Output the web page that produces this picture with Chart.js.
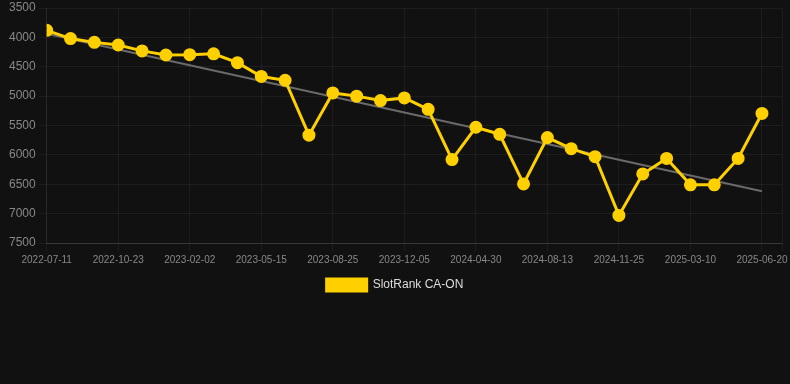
<!DOCTYPE html>
<html lang="en">
<head>
    <meta charset="UTF-8">
    <title>SlotRank CA-ON</title>
    <script src="https://cdn.jsdelivr.net/npm/chart.js"></script>
    <style>
        html, body {
            margin: 0;
            padding: 0;
            background: #111111;
        }
        .chart-box {
            position: relative;
            width: 790px;
            height: 301px;
        }
    </style>
</head>
<body>
    <div class="chart-box">
        <canvas id="rankChart"></canvas>
    </div>

    <script>
        // dates shown under the points (every 3rd one is printed)
        const dates = [
            '2022-07-11', '2022-08-15', '2022-09-19', '2022-10-23', '2022-11-27', '2022-12-29',
            '2023-02-02', '2023-03-08', '2023-04-11', '2023-05-15', '2023-06-18', '2023-07-22',
            '2023-08-25', '2023-09-28', '2023-11-01', '2023-12-05', '2024-01-08', '2024-03-18',
            '2024-04-30', '2024-06-04', '2024-07-09', '2024-08-13', '2024-09-17', '2024-10-21',
            '2024-11-25', '2024-12-30', '2025-02-03', '2025-03-10', '2025-04-13', '2025-05-17',
            '2025-06-20'
        ];
        const rankValues = [
            3880, 4020, 4085, 4130, 4230, 4300, 4295, 4280, 4430, 4665, 4730,
            5665, 4945, 5000, 5075, 5030, 5225, 6080, 5530, 5650, 6495, 5705,
            5895, 6030, 7030, 6325, 6060, 6510, 6510, 6060, 5295
        ];
        // gray trend line, start and end
        const trendEnds = [3940, 6620];
        const yTicks = { min: 3500, max: 7500, step: 500 };
        const labelEvery = 3;
        const xMax = 30.84;

        const last = dates.length - 1;
        const ctx = document.getElementById('rankChart').getContext('2d');
        const rankChart = new Chart(ctx, {
            type: 'line',
            data: {
                datasets: [{
                    label: 'SlotRank CA-ON',
                    data: rankValues.map((v, i) => ({ x: i, y: v })),
                    borderColor: '#ffd000',
                    backgroundColor: '#ffd000',
                    pointBackgroundColor: '#ffd000',
                    pointBorderColor: '#ffd000',
                    borderWidth: 3,
                    pointRadius: 5,
                    tension: 0
                }, {
                    label: 'trend',
                    data: [{ x: 0, y: trendEnds[0] }, { x: last, y: trendEnds[1] }],
                    borderColor: '#6a6a6a',
                    borderWidth: 2,
                    pointRadius: 0,
                    tension: 0
                }]
            },
            options: {
                responsive: true,
                maintainAspectRatio: false,
                animation: false,
                plugins: {
                    tooltip: { enabled: false },
                    legend: {
                        position: 'bottom',
                        labels: {
                            color: '#dddddd',
                            boxWidth: 40,
                            font: { family: 'Arial', size: 12 },
                            filter: item => item.datasetIndex === 0
                        }
                    }
                },
                scales: {
                    x: {
                        type: 'linear',
                        min: 0,
                        max: xMax,
                        afterBuildTicks: scale => {
                            const ticks = [];
                            dates.forEach((d, i) => {
                                if (i % labelEvery === 0) ticks.push({ value: i });
                            });
                            ticks.push({ value: xMax });
                            scale.ticks = ticks;
                        },
                        ticks: {
                            autoSkip: false,
                            maxRotation: 0,
                            color: '#888888',
                            font: { family: 'Arial', size: 10 },
                            callback: v => (Number.isInteger(v) && dates[v]) ? dates[v] : ''
                        },
                        grid: { color: 'rgba(255, 255, 255, 0.05)' },
                        border: { color: 'rgba(255, 255, 255, 0.12)' }
                    },
                    y: {
                        reverse: true,
                        min: yTicks.min,
                        max: yTicks.max,
                        afterFit: scale => { scale.width += 6; },
                        ticks: {
                            stepSize: yTicks.step,
                            color: '#888888',
                            font: { family: 'Arial', size: 12, lineHeight: 0.5 },
                            callback: v => String(v)
                        },
                        grid: { color: 'rgba(255, 255, 255, 0.05)' },
                        border: { color: 'rgba(255, 255, 255, 0.05)' }
                    }
                }
            }
        });
    </script>
</body>
</html>
